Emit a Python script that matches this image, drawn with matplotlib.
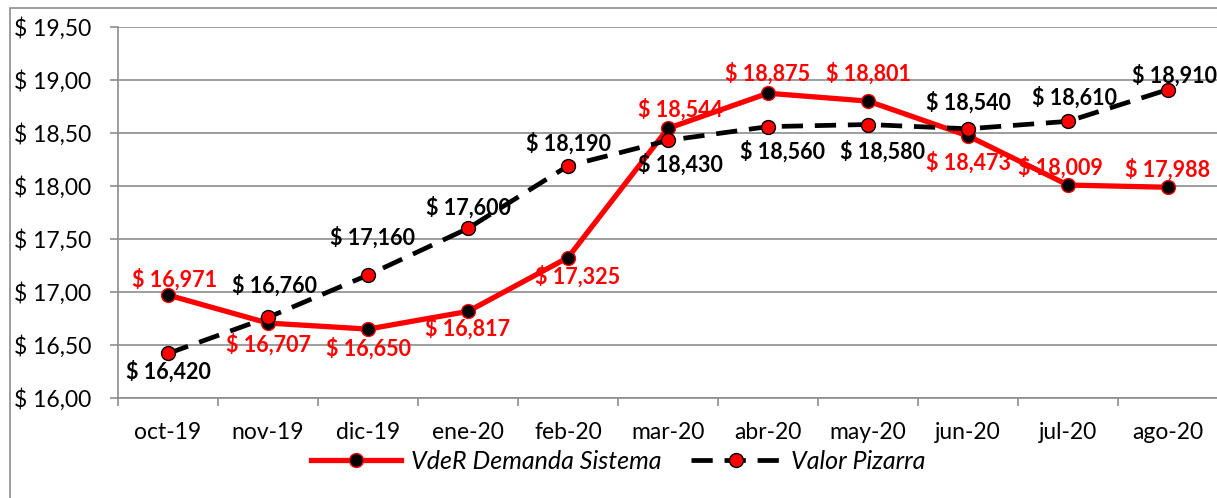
import matplotlib.pyplot as plt
from matplotlib.patches import Rectangle
from matplotlib.ticker import FuncFormatter, FixedLocator

# Chart data
months = ['oct-19', 'nov-19', 'dic-19', 'ene-20', 'feb-20', 'mar-20',
          'abr-20', 'may-20', 'jun-20', 'jul-20', 'ago-20']
vder = [16.971, 16.707, 16.650, 16.817, 17.325, 18.544,
        18.875, 18.801, 18.473, 18.009, 17.988]
pizarra = [16.420, 16.760, 17.160, 17.600, 18.190, 18.430,
           18.560, 18.580, 18.540, 18.610, 18.910]

# label offsets (pixels, +y = up), as placed in the original
vder_off = [(7, 16), (0, -21), (0, -19), (0, -17), (10, -19), (12, 19),
            (0, 20), (0, 28), (0, -27), (-8, 17), (0, 18)]
piz_off = [(0, -18), (7, 32), (4, 37), (0, 21), (0, 22), (12, -24),
           (14, -25), (14, -27), (0, 26), (7, 24), (7, 14)]

plt.rcParams['font.family'] = ['Lato', 'DejaVu Sans']

fig = plt.figure(figsize=(12.17, 4.98), dpi=100)
ax = fig.add_axes([118 / 1217, 1 - 398 / 498, 1100 / 1217, 371 / 498])

# outer chart border
fig.patches.append(Rectangle((10 / 1217, -0.1), 1.2, 1 - 8 / 498 + 0.1,
                             transform=fig.transFigure, fill=False,
                             edgecolor='#8c8c8c', linewidth=1.2))

x = list(range(len(months)))
ax.plot(x, vder, color='red', linewidth=3.8, marker='o', markersize=10,
        markerfacecolor='black', markeredgecolor='red', markeredgewidth=1,
        label='VdeR Demanda Sistema', zorder=3)
ax.plot(x, pizarra, color='black', linewidth=3.4, linestyle=(0, (4.5, 2.5)),
        marker='o', markersize=10, markerfacecolor='red',
        markeredgecolor='black', markeredgewidth=1,
        label='Valor Pizarra', zorder=4)

def fmt(v):
    return '$ ' + f'{v:.3f}'.replace('.', ',')

px = 0.72  # points per pixel at 100 dpi
for i, v in enumerate(vder):
    dx, dy = vder_off[i]
    ax.annotate(fmt(v), (i, v), xytext=(dx * px, dy * px), textcoords='offset points',
                ha='center', va='center', color='red', fontsize=15.5,
                fontweight='bold', zorder=5)
for i, v in enumerate(pizarra):
    dx, dy = piz_off[i]
    ax.annotate(fmt(v), (i, v), xytext=(dx * px, dy * px), textcoords='offset points',
                ha='center', va='center', color='black', fontsize=15.5,
                fontweight='bold', zorder=5)

ax.set_xlim(-0.5, len(months) - 0.5)
ax.set_ylim(16.0, 19.5)
ax.set_yticks([16.0, 16.5, 17.0, 17.5, 18.0, 18.5, 19.0, 19.5])
ax.yaxis.set_major_formatter(FuncFormatter(lambda v, p: '$ ' + f'{v:.2f}'.replace('.', ',')))
ax.set_xticks(x)
ax.set_xticklabels(months)
ax.xaxis.set_minor_locator(FixedLocator([i - 0.5 for i in range(len(months) + 1)]))
ax.tick_params(axis='x', which='major', length=0, pad=17, labelsize=16.5)
ax.tick_params(axis='x', which='minor', length=6, color='#8c8c8c', width=1.2)
ax.tick_params(axis='y', length=6, color='#8c8c8c', width=1.2, labelsize=16.5, pad=13)

ax.grid(axis='y', color='#8c8c8c', linewidth=1.2)
ax.set_axisbelow(True)
for s in ['top', 'right']:
    ax.spines[s].set_visible(False)
ax.spines['left'].set_color('#8c8c8c')
ax.spines['left'].set_linewidth(1.2)
ax.spines['bottom'].set_color('#8c8c8c')
ax.spines['bottom'].set_linewidth(1.2)

leg = fig.legend(loc='center', bbox_to_anchor=(618 / 1217, 1 - 461 / 498), ncol=2,
                 frameon=False, prop={'style': 'italic', 'size': 18},
                 handlelength=3.6, columnspacing=1.2, handletextpad=0.4)

fig.savefig('out.png', dpi=100)
